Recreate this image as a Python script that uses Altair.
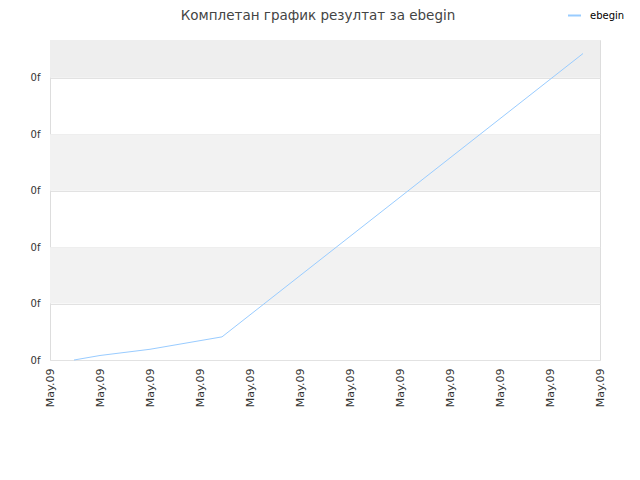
import altair as alt
import pandas as pd

# data
x_vals = [0.48, 1.0, 2.0, 3.44, 10.66]
y_vals = [0.0, 0.08, 0.19, 0.41, 5.43]
series = "ebegin"
title_text = "Комплетан график резултат за ebegin"
x_tick_label = "May.09"
y_tick_label = "0f"
y_ticks = [0, 1, 2, 3, 4, 5]
x_ticks = list(range(0, 12))

Y_TOP = 5.67
X_MAX = 11

df = pd.DataFrame({"x": x_vals, "y": y_vals, "s": [series] * len(x_vals)})
bands = pd.DataFrame({
    "lo": [1, 3, 5],
    "hi": [2, 4, Y_TOP],
    "c": ["#f2f2f2", "#f2f2f2", "#eeeeee"],
})

xs = alt.Scale(domain=[0, X_MAX], nice=False, zero=False)
ys = alt.Scale(domain=[0, Y_TOP], nice=False, zero=True)

y_axis = alt.Axis(
    values=y_ticks, labelExpr=f"'{y_tick_label}'", grid=True,
    gridColor="#e2e2e2", ticks=False, domain=False, title=None,
    labelFont="DejaVu Sans", labelFontSize=10, labelColor="#333333",
    labelPadding=10)

band_layer = alt.Chart(bands).mark_rect().encode(
    x=alt.value(0), x2=alt.value(550),
    y=alt.Y("lo:Q", scale=ys, axis=y_axis), y2="hi:Q",
    fill=alt.Fill("c:N", scale=None, legend=None),
)

line = alt.Chart(df).mark_line(strokeWidth=1, interpolate="linear").encode(
    x=alt.X("x:Q", scale=xs, axis=alt.Axis(
        values=x_ticks, labelExpr=f"'{x_tick_label}'", labelAngle=-90,
        labelAlign="right", labelBaseline="middle", grid=False, ticks=False,
        domain=False, title=None, labelFont="DejaVu Sans", labelFontSize=11,
        labelColor="#333333", labelPadding=8)),
    y=alt.Y("y:Q", scale=ys, axis=y_axis),
    stroke=alt.Stroke("s:N", scale=alt.Scale(range=["#99ccff"]), legend=alt.Legend(
        title=None, orient="none", legendX=517, legendY=-32, symbolType="stroke",
        symbolStrokeWidth=2, symbolSize=169, labelOffset=8, labelFont="DejaVu Sans",
        labelFontSize=10, labelColor="#000000")),
)

chart = alt.layer(band_layer, line).resolve_scale(fill="independent", stroke="independent").properties(
    width=550, height=320,
    title=alt.TitleParams(title_text, font="DejaVu Sans", fontSize=13.5,
                          fontWeight="normal", color="#444444", dx=-7, offset=0, dy=14),
    padding={"left": 42, "top": 32, "right": 32, "bottom": 100},
    autosize=alt.AutoSizeParams(type="none"),
).configure_view(stroke="#dddddd", strokeWidth=1)

chart.save("out.html", embed_options={"renderer": "svg", "actions": False})
